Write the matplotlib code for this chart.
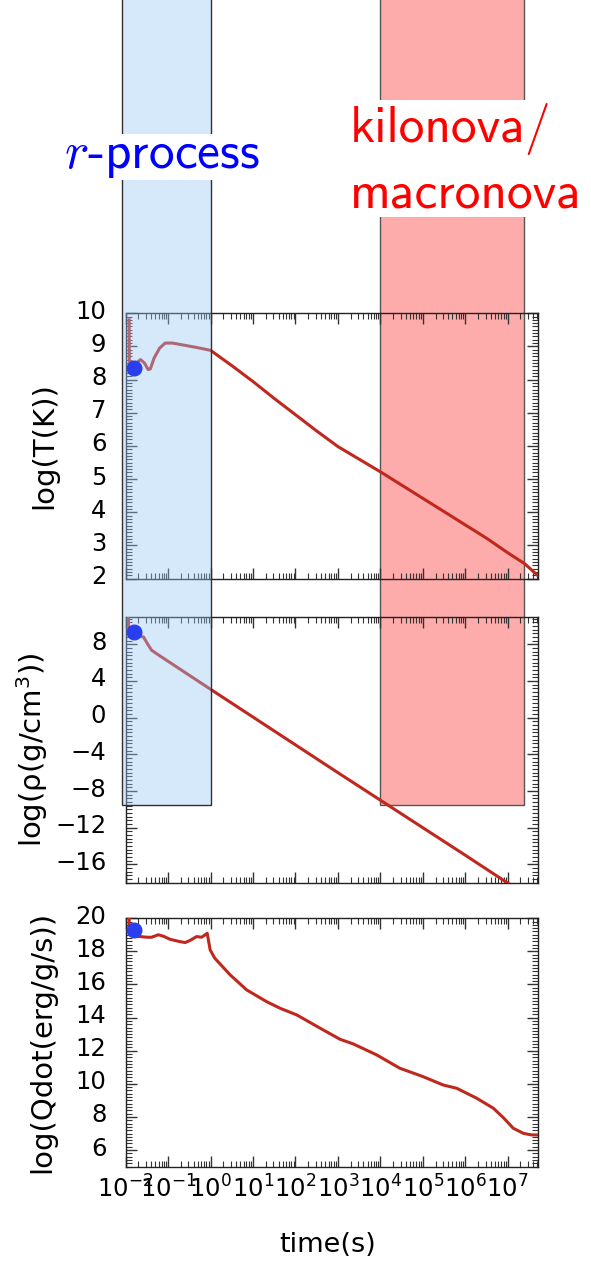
import numpy as np
import matplotlib
matplotlib.use('Agg')
import matplotlib.pyplot as plt
import matplotlib.transforms as mtransforms
from matplotlib.patches import Rectangle
from matplotlib.lines import Line2D
from matplotlib.ticker import LogLocator, MultipleLocator, NullFormatter

# --- data (log10 of time in s, and the plotted quantity) ---
logt_T = [-1.92, -1.915, -1.86, -1.75, -1.65, -1.56, -1.47, -1.42, -1.33, -1.2,
          -1.07, -0.9, -0.6, -0.3, 0.0, 0.5, 1.0, 1.5, 2.0, 2.5, 3.0, 3.5, 4.0,
          4.5, 5.0, 5.5, 6.0, 6.5, 7.0, 7.4, 7.72]
logT = [9.8, 8.55, 8.45, 8.5, 8.6, 8.5, 8.3, 8.32, 8.65, 8.95, 9.1, 9.1, 9.03,
        8.96, 8.88, 8.42, 7.94, 7.43, 6.94, 6.45, 5.98, 5.6, 5.22, 4.82, 4.42,
        4.02, 3.62, 3.22, 2.78, 2.45, 2.08]

logt_rho = [-1.94, -1.93, -1.85, -1.7, -1.58, -1.48, -1.39, -1.2, 0.0, 1.0, 2.0,
            3.0, 4.0, 5.0, 6.0, 7.02]
logrho = [11.4, 9.3, 9.0, 8.9, 8.8, 8.0, 7.35, 6.75, 3.09, 0.06, -2.97, -6.0,
          -9.0, -12.0, -15.0, -18.1]

logt_Q = [-1.92, -1.91, -1.8, -1.66, -1.5, -1.39, -1.23, -1.1, -0.96, -0.75,
          -0.6, -0.49, -0.33, -0.21, -0.08, -0.01, 0.1, 0.46, 0.85, 1.32, 1.64,
          2.03, 2.58, 3.05, 3.36, 3.91, 4.46, 5.01, 5.48, 5.8, 6.27, 6.66, 6.9,
          7.13, 7.37, 7.55, 7.72]
logQ = [20.0, 19.1, 18.9, 18.89, 18.85, 18.85, 19.0, 18.9, 18.73, 18.6, 18.53,
        18.65, 18.89, 18.85, 19.09, 18.08, 17.58, 16.58, 15.67, 14.96, 14.56,
        14.16, 13.36, 12.69, 12.41, 11.75, 10.94, 10.43, 9.93, 9.73, 9.13, 8.53,
        7.95, 7.32, 7.01, 6.92, 6.91]

# starting point markers
dot_t = 0.0157
dot_T = 8.34
dot_rho = 9.37
dot_Q = 19.3

# shaded time windows
rp_band = (8e-3, 1.0)       # r-process
kn_band = (1e4, 2.4e7)      # kilonova / macronova
band_floor = -9.5           # lower end of both bands, in log(rho) units

xlim = (1e-2, 10 ** 7.72)
ylims = [(2, 10), (-18, 11), (5, 20)]
ymajor = [1, 4, 2]
yminor = [0.1, 0.4, 0.2]
ylabels = ['log(T(K))', 'log(ρ(g/cm$^3$))', 'log(Qdot(erg/g/s))']
ylabel_x = [-0.164, -0.183, -0.168]

line_col = '#c0281e'
dot_col = '#2a3ef0'

fig = plt.figure(figsize=(5.91, 12.67), dpi=100)
ax_T = fig.add_axes([0.2127, 0.5433, 0.6981, 0.2095])
ax_r = fig.add_axes([0.2127, 0.3033, 0.6981, 0.2099])
ax_Q = fig.add_axes([0.2127, 0.0792, 0.6981, 0.1961])
axes = [ax_T, ax_r, ax_Q]

curves = [(logt_T, logT, dot_T), (logt_rho, logrho, dot_rho), (logt_Q, logQ, dot_Q)]

for i, ax in enumerate(axes):
    lt, val, dv = curves[i]
    ax.plot(10 ** np.array(lt), val, color=line_col, lw=2.2, zorder=3)
    ax.set_xscale('log')
    ax.set_xlim(*xlim)
    ax.set_ylim(*ylims[i])
    ax.set_facecolor('none')
    ax.xaxis.set_major_locator(LogLocator(base=10, numticks=20))
    ax.xaxis.set_minor_locator(LogLocator(base=10, subs=np.arange(2, 10), numticks=100))
    ax.xaxis.set_minor_formatter(NullFormatter())
    ax.yaxis.set_major_locator(MultipleLocator(ymajor[i]))
    ax.yaxis.set_minor_locator(MultipleLocator(yminor[i]))
    ax.tick_params(which='both', direction='in', top=True, right=True, color='#333333')
    ax.tick_params(which='major', length=8, width=1.0)
    ax.tick_params(which='minor', length=4, width=0.8)
    ax.tick_params(axis='y', which='major', labelsize=17.5, pad=14)
    ax.tick_params(axis='x', which='major', labelsize=17.5, pad=6)
    for s in ax.spines.values():
        s.set_linewidth(1.0)
        s.set_color('#222222')
    ax.set_ylabel(ylabels[i], fontsize=21)
    ax.yaxis.set_label_coords(ylabel_x[i], 0.5)
    if i < 2:
        ax.tick_params(labelbottom=False)
    # the start markers sit on top of the translucent band, so add them to the figure
    fig.add_artist(Line2D([dot_t], [dv], marker='o', ls='none', color=dot_col,
                          ms=10.5, mec=dot_col, transform=ax.transData, zorder=3))

ax_Q.set_xlabel('time(s)', fontsize=19.5)
ax_Q.xaxis.set_label_coords(0.49, -0.262)

# bands: red one sits behind the panels, blue one is a translucent overlay
band_tr = mtransforms.blended_transform_factory(ax_r.transData, ax_r.transData)
kn = Rectangle((kn_band[0], band_floor), kn_band[1] - kn_band[0], 200,
               transform=band_tr, facecolor='#fdabab', edgecolor='#555555',
               lw=1.0, zorder=-1, clip_on=False)
rp = Rectangle((rp_band[0], band_floor), rp_band[1] - rp_band[0], 200,
               transform=band_tr, facecolor=(0.596, 0.784, 0.969, 0.4),
               edgecolor='#303030', lw=1.0, zorder=1, clip_on=False)
fig.add_artist(kn)
fig.add_artist(rp)

fig.text(0.108, 0.8674, r'$r$-process', color='#0000ff', fontsize=37,
         family=['cmss10', 'DejaVu Sans'], math_fontfamily='cm',
         va='baseline', ha='left', zorder=5,
         bbox=dict(boxstyle='square,pad=0', fc='white', ec='none'))
fig.text(0.592, 0.8364, 'kilonova/\nmacronova', color='#ff0000', fontsize=37,
         family=['cmss10', 'DejaVu Sans'], linespacing=1.45,
         va='baseline', ha='left', zorder=5,
         bbox=dict(boxstyle='square,pad=0', fc='white', ec='none'))

# tick labels sit a few pixels above their ticks in the original
fig.canvas.draw()
shift = mtransforms.ScaledTranslation(0, 0.04, fig.dpi_scale_trans)
for ax in axes:
    for lbl in ax.get_yticklabels():
        lbl.set_transform(lbl.get_transform() + shift)

fig.savefig('out.png', dpi=100)
